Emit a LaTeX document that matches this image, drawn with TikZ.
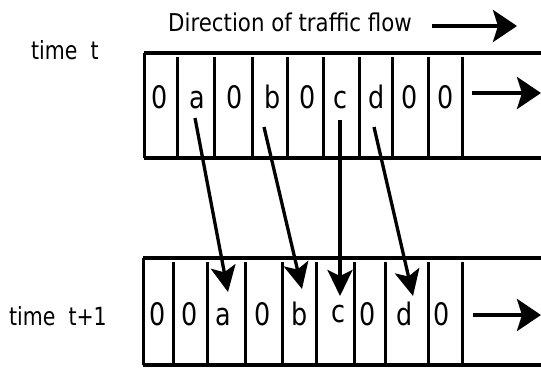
\documentclass[tikz,border=0pt]{standalone}
\usepackage{fontspec}
\setmainfont{DejaVu Sans}
\newfontfamily\cfont[FakeStretch=0.82]{DejaVu Sans}
\newfontfamily\tfont[FakeStretch=0.87]{DejaVu Sans}
\usetikzlibrary{arrows.meta}
\begin{document}
\begin{tikzpicture}[x=1pt,y=-1pt,
  road/.style={line width=4pt},
  divider/.style={line width=3pt},
  cell/.style={anchor=base,inner sep=0pt,font=\cfont\fontsize{31}{31}\selectfont},
  timelbl/.style={anchor=base west,inner sep=0pt,font=\cfont\fontsize{25}{25}\selectfont},
  titlelbl/.style={anchor=base west,inner sep=0pt,font=\tfont\fontsize{24.5}{24.5}\selectfont},
  move/.style={line width=3.3pt,-{Stealth[length=26pt,width=25pt,inset=6pt]}},
  flow/.style={line width=4pt,-{Stealth[length=24pt,width=32pt,inset=5pt]}}]
\useasboundingbox (0,0) rectangle (541,367);
% titles
\node[titlelbl] (dir) at (168,31) {Direction of traffic flow};
\coordinate (dirS) at (432,26);
\coordinate (dirE) at (517,26);
\draw[flow] (dirS) -- (dirE);
\node[timelbl] (tt) at (31,59) {time\ \ t};
\node[timelbl] (tt1) at (9,325) {time\ \ t+1};
% top road
\draw[road] (144,53) -- (541,53);
\draw[road] (144,158) -- (541,158);
\draw[divider] (144,53) -- (144,158);
\foreach \x in {177,214,252,287,323,359,392,428,462}
  \draw[divider] (\x,57) -- (\x,158);
\node[cell] (t1) at (160,108) {0};
\node[cell] (ta) at (197,108) {a};
\node[cell] (t3) at (235,108) {0};
\node[cell] (tb) at (273,108) {b};
\node[cell] (t5) at (308,108) {0};
\node[cell] (tc) at (340,108) {c};
\node[cell] (td) at (377,108) {d};
\node[cell] (t8) at (410,108) {0};
\node[cell] (t9) at (446,108) {0};
\coordinate (topS) at (472,93);
\coordinate (topE) at (541,93);
\draw[flow] (topS) -- (topE);
% bottom road
\draw[road] (143,258) -- (541,258);
\draw[road] (143,365) -- (541,365);
\draw[divider] (143,258) -- (143,365);
\foreach \x in {173,207,245,282,316,354,385,428,462}
  \draw[divider] (\x,262) -- (\x,365);
\node[cell] (b1) at (158,325) {0};
\node[cell] (b2) at (190,325) {0};
\node[cell] (ba) at (223,325) {a};
\node[cell] (b4) at (263,325) {0};
\node[cell] (bb) at (300,325) {b};
\node[cell] (bc) at (338,322) {c};
\node[cell] (b7) at (368,325) {0};
\node[cell] (bd) at (405,325) {d};
\node[cell] (b9) at (442,325) {0};
\coordinate (botS) at (473,315);
\coordinate (botE) at (541,315);
\draw[flow] (botS) -- (botE);
% moves
\coordinate (aS) at (195,118);
\coordinate (aE) at (228,292);
\coordinate (bS) at (264,127);
\coordinate (bE) at (302,289);
\coordinate (cS) at (340,120);
\coordinate (cE) at (340,296);
\coordinate (dS) at (374,127);
\coordinate (dE) at (413,296);
\draw[move] (aS) -- (aE);
\draw[move] (bS) -- (bE);
\draw[move] (cS) -- (cE);
\draw[move] (dS) -- (dE);
\end{tikzpicture}
\end{document}
